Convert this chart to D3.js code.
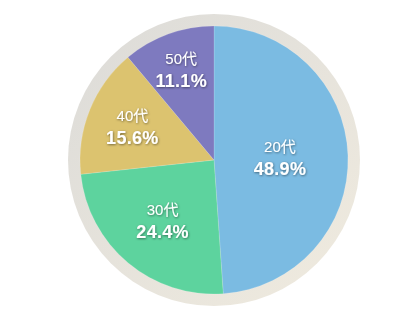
<!DOCTYPE html>
<html>
<head>
<meta charset="utf-8">
<script src="https://cdn.jsdelivr.net/npm/d3@7"></script>
<style>
  body { margin: 0; background: #fff; }
  svg text { font-family: "Liberation Sans", Arial, "Noto Sans CJK JP", sans-serif; fill: #fff; }
</style>
</head>
<body>
<svg width="420" height="314"></svg>
<script>
// age groups and their share (%)
var ages = ["20代", "30代", "40代", "50代"];
var shares = [48.9, 24.4, 15.6, 11.1];
var colors = ["#7bbbe2", "#5dd39e", "#dcc36f", "#7e7abf"];

var svg = d3.select("svg");
var cx = 214, cy = 160, R = 134, ringR = 146;

var defs = svg.append("defs");
var grad = defs.append("linearGradient").attr("id", "ring")
    .attr("x1", "0%").attr("y1", "0%").attr("x2", "100%").attr("y2", "100%");
grad.append("stop").attr("offset", "0%").attr("stop-color", "#dcdbd8");
grad.append("stop").attr("offset", "100%").attr("stop-color", "#f0ebdf");

var f = defs.append("filter").attr("id", "shadow")
    .attr("x", "-20%").attr("y", "-20%").attr("width", "140%").attr("height", "140%");
f.append("feDropShadow").attr("dx", 0.6).attr("dy", 0.8).attr("stdDeviation", 1)
    .attr("flood-color", "#000").attr("flood-opacity", 0.5);

var g = svg.append("g").attr("transform", "translate(" + cx + "," + cy + ")");

g.append("circle").attr("r", ringR).attr("fill", "url(#ring)");

var data = ages.map(function(a, i){ return {age: a, share: shares[i], color: colors[i]}; });

var pie = d3.pie().sort(null).value(function(d){ return d.share; });
var arc = d3.arc().innerRadius(0).outerRadius(R);
var arcs = pie(data);

g.selectAll("path.slice")
  .data(arcs)
  .enter()
  .append("path")
  .attr("class", "slice")
  .attr("d", arc)
  .attr("fill", function(d){ return d.data.color; })
  .attr("stroke", "rgba(255,255,255,0.25)")
  .attr("stroke-width", 0.6);

// label distance from centre for each slice
var labelR = [66, 80, 88, 96];

var labels = g.selectAll("g.label")
  .data(arcs)
  .enter()
  .append("g")
  .attr("class", "label")
  .attr("filter", "url(#shadow)")
  .attr("transform", function(d, i){
     var a = (d.startAngle + d.endAngle) / 2;
     return "translate(" + (Math.sin(a) * labelR[i]) + "," + (-Math.cos(a) * labelR[i]) + ")";
  });

labels.append("text")
  .attr("text-anchor", "middle")
  .attr("y", -6)
  .style("font-size", "15px")
  .text(function(d){ return d.data.age; });

labels.append("text")
  .attr("text-anchor", "middle")
  .attr("y", 17)
  .style("font-size", "18px")
  .style("font-weight", "bold")
  .style("letter-spacing", "0.3px")
  .text(function(d){ return d.data.share.toFixed(1) + "%"; });
</script>
</body>
</html>
